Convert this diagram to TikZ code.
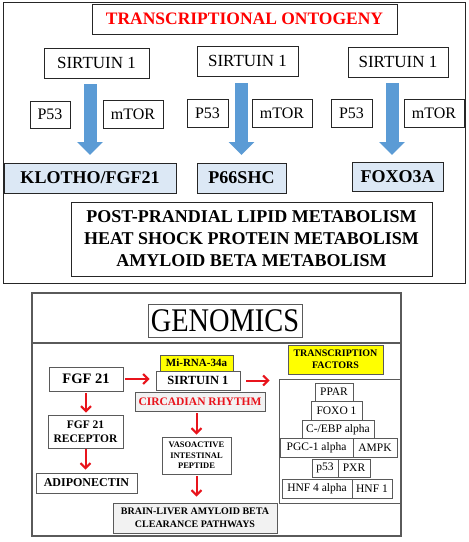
\documentclass[tikz,border=0pt]{standalone}
\usepackage{fontspec}
\setmainfont{Liberation Serif}
\usepackage{graphicx}
\usetikzlibrary{arrows.meta}
\definecolor{arrblue}{HTML}{5B9BD5}
\definecolor{lblue}{HTML}{DCE8F5}
\definecolor{rred}{HTML}{E8141C}
\definecolor{ggray}{HTML}{F2F2F2}
\definecolor{bord}{HTML}{5A5A5A}
\definecolor{ybox}{HTML}{FFFF00}
\begin{document}
\begin{tikzpicture}[x=1pt,y=-1pt,
  box/.style={draw=black!85, line width=0.9pt, inner sep=0pt, align=center},
  gbox/.style={draw=bord, line width=0.9pt, inner sep=0pt, align=center},
  sirtop/.style={box, font=\fontsize{17}{20}\selectfont},
  small/.style={box, font=\fontsize{16}{19}\selectfont},
  result/.style={box, fill=lblue, font=\bfseries\fontsize{18}{21}\selectfont},
  stackbox/.style={gbox, font=\fontsize{11.5}{13}\selectfont},
  bigarr/.style={draw=arrblue, line width=13pt, -{Triangle[length=13pt,width=25pt]}},
  redarr/.style={draw=rred, line width=2pt, -{Straight Barb[length=5pt,width=10pt]}}]
\useasboundingbox (0,0) rectangle (469,542);
\fill[white] (0,0) rectangle (469,542);
% ---------- top panel ----------
\draw[line width=1pt, black!85] (3,2) rectangle (465,283);
\node[box, minimum width=305, minimum height=30, text=red, font=\bfseries\fontsize{17.5}{20}\selectfont] (title) at (244.5,19) {TRANSCRIPTIONAL ONTOGENY};
\node[sirtop, minimum width=105, minimum height=30] (s1) at (96.5,63) {SIRTUIN 1};
\node[sirtop, minimum width=101, minimum height=30] (s2) at (247.5,61) {SIRTUIN 1};
\node[sirtop, minimum width=100, minimum height=30] (s3) at (398,62) {SIRTUIN 1};
\node[small, minimum width=40, minimum height=27] (p1) at (50,114.5) {P53};
\node[small, minimum width=60, minimum height=28] (m1) at (133,114) {mTOR};
\node[small, minimum width=41, minimum height=28] (p2) at (207.5,113) {P53};
\node[small, minimum width=60, minimum height=28] (m2) at (282,113) {mTOR};
\node[small, minimum width=41, minimum height=28] (p3) at (351.5,113) {P53};
\node[small, minimum width=60, minimum height=28] (m3) at (434,113) {mTOR};
\node[result, minimum width=172, minimum height=30] (r1) at (90,178) {KLOTHO/FGF21};
\node[result, minimum width=89, minimum height=30] (r2) at (241.5,178) {P66SHC};
\node[result, minimum width=91, minimum height=29] (r3) at (397.5,176.5) {FOXO3A};
\coordinate (a1s) at (90,84);
\coordinate (a1e) at (90,155);
\coordinate (a2s) at (241.5,83);
\coordinate (a2e) at (241.5,155);
\coordinate (a3s) at (392,83);
\coordinate (a3e) at (392,155);
\draw[bigarr] (a1s) -- (a1e);
\draw[bigarr] (a2s) -- (a2e);
\draw[bigarr] (a3s) -- (a3e);
\node[box, minimum width=361, minimum height=74, font=\bfseries\fontsize{18}{22}\selectfont] (met) at (251.5,239)
  {POST-PRANDIAL LIPID METABOLISM\\HEAT SHOCK PROTEIN METABOLISM\\AMYLOID BETA METABOLISM};
% ---------- bottom panel ----------
\draw[bord, line width=1.2pt] (32,293) rectangle (401,536);
\draw[bord, line width=1.2pt] (32,343) -- (401,343);
\node[gbox, minimum width=154, minimum height=33, font=\fontsize{33}{36}\selectfont] (gen) at (225,320.5) {\scalebox{0.86}[1]{GENOMICS}};
\node[gbox, minimum width=74, minimum height=24, font=\bfseries\fontsize{14.5}{17}\selectfont] (fgf) at (86,379) {FGF 21};
\node[gbox, fill=ybox, minimum width=73, minimum height=16, font=\bfseries\fontsize{11}{13}\selectfont] (mir) at (196.5,363) {Mi-RNA-34a};
\node[gbox, minimum width=84, minimum height=19, font=\bfseries\fontsize{12.5}{14}\selectfont] (sir) at (198,380.5) {SIRTUIN 1};
\node[gbox, fill=ggray, text=rred, minimum width=130, minimum height=19, font=\bfseries\fontsize{11.5}{13}\selectfont] (cir) at (200,401.5) {CIRCADIAN RHYTHM};
\node[gbox, minimum width=75, minimum height=33, font=\bfseries\fontsize{11.5}{13.5}\selectfont] (rec) at (85.5,431.5) {FGF 21\\RECEPTOR};
\node[gbox, minimum width=101, minimum height=20, font=\bfseries\fontsize{12}{14}\selectfont] (adi) at (86.5,483) {ADIPONECTIN};
\node[gbox, minimum width=69, minimum height=37, font=\bfseries\fontsize{8.5}{10.5}\selectfont] (vas) at (196.5,455.5) {VASOACTIVE\\INTESTINAL\\PEPTIDE};
\node[gbox, fill=ggray, minimum width=164, minimum height=30, font=\bfseries\fontsize{10}{12.5}\selectfont] (bra) at (195,518) {BRAIN-LIVER AMYLOID BETA\\CLEARANCE PATHWAYS};
\node[gbox, fill=ybox, minimum width=95, minimum height=29, font=\bfseries\fontsize{10}{12}\selectfont] (tf) at (335.5,359.5) {TRANSCRIPTION\\FACTORS};
\node[gbox, minimum width=121, minimum height=124] (tfc) at (339.5,441) {};
\node[stackbox, minimum width=38, minimum height=18] (ppar) at (334,392) {PPAR};
\node[stackbox, minimum width=51, minimum height=19] (foxo) at (336.5,411) {FOXO 1};
\node[stackbox, minimum width=72, minimum height=18] (cebp) at (338,429.5) {C-/EBP alpha};
\node[stackbox, minimum width=73, minimum height=19] (pgc) at (316.5,448) {PGC-1 alpha};
\node[stackbox, minimum width=44, minimum height=19] (ampk) at (375,448) {AMPK};
\node[stackbox, minimum width=26, minimum height=18] (p53b) at (325,468) {p53};
\node[stackbox, minimum width=32, minimum height=18] (pxr) at (354,468) {PXR};
\node[stackbox, minimum width=70, minimum height=19] (hnf4) at (317,488.5) {HNF 4 alpha};
\node[stackbox, minimum width=40, minimum height=19] (hnf1) at (372,488.5) {HNF 1};
% red arrows
\draw[redarr, shorten <=2pt, shorten >=6pt] (fgf.east) -- (fgf.east -| sir.west);
\draw[redarr, shorten <=6pt, shorten >=9pt] (sir.east) -- (sir.east -| tfc.west);
\draw[redarr, shorten <=2pt, shorten >=2pt] (fgf.south) -- (fgf.south |- rec.north);
\draw[redarr, shorten <=1pt, shorten >=3pt] (rec.south) -- (rec.south |- adi.north);
\draw[redarr, shorten <=2pt, shorten >=2pt] (vas.north |- cir.south) -- (vas.north);
\draw[redarr, shorten <=2pt, shorten >=6pt] (vas.south) -- (vas.south |- bra.north);
\end{tikzpicture}
\end{document}
